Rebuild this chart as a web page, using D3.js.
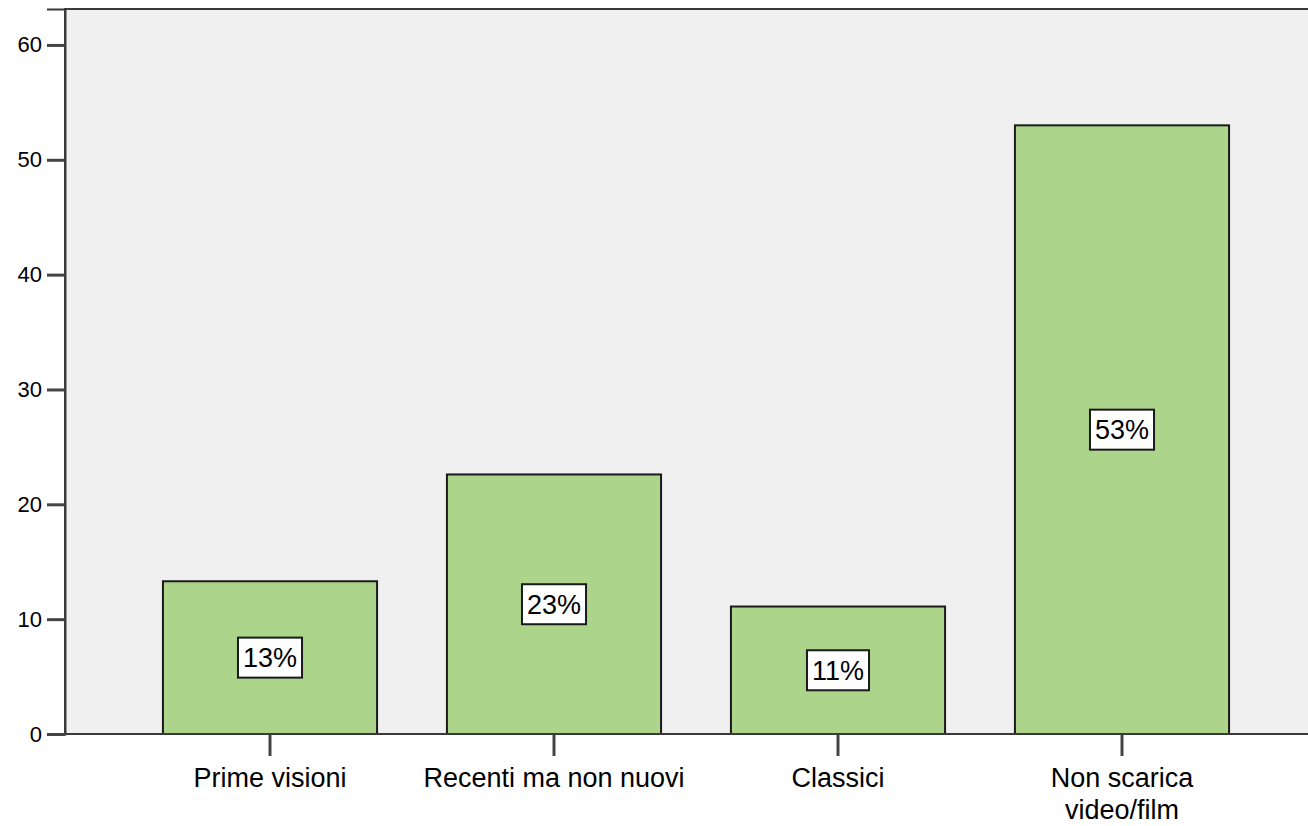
<!DOCTYPE html>
<html>
<head>
<meta charset="utf-8">
<script src="https://cdn.jsdelivr.net/npm/d3@7"></script>
<style>
  body { margin: 0; background: #fff; }
  text { font-family: "Liberation Sans", Arial, sans-serif; fill: #000; }
</style>
</head>
<body>
<div id="chart"></div>
<script>
// data
const categories = ["Prime visioni", "Recenti ma non nuovi", "Classici", "Non scarica video/film"];
const catLines = [["Prime visioni"], ["Recenti ma non nuovi"], ["Classici"], ["Non scarica", "video/film"]];
const values = [13.3, 22.6, 11.1, 53.0];
const pctLabels = ["13%", "23%", "11%", "53%"];
const yTicks = [0, 10, 20, 30, 40, 50, 60];

var W = 1308, H = 826;
var margin = { top: 9, right: 0, bottom: 92, left: 65 };

var svg = d3.select("#chart").append("svg")
    .attr("width", W)
    .attr("height", H);

var y = d3.scaleLinear()
    .domain([0, 63.13])
    .range([H - margin.bottom, margin.top]);

var x = d3.scaleBand()
    .domain(categories)
    .range([128, 1264])
    .paddingInner(0.246)
    .paddingOuter(0.123);

// plot background + frame
svg.append("rect")
    .attr("x", margin.left)
    .attr("y", margin.top)
    .attr("width", W - margin.left + 10)
    .attr("height", y(0) - margin.top)
    .attr("fill", "#f0f0f0")
    .attr("stroke", "#3a3a3a")
    .attr("stroke-width", 2);

// bars
svg.append("g")
    .selectAll("rect")
    .data(values)
    .enter()
    .append("rect")
    .attr("x", (d, i) => x(categories[i]))
    .attr("y", d => y(d))
    .attr("width", x.bandwidth())
    .attr("height", d => y(0) - y(d))
    .attr("fill", "#acd58b")
    .attr("stroke", "#1a1a1a")
    .attr("stroke-width", 2);

// y axis
var yAxis = svg.append("g")
    .attr("transform", "translate(" + margin.left + ",0)")
    .call(d3.axisLeft(y).tickValues(yTicks).tickSize(18).tickPadding(5).tickFormat(d3.format("d")));
yAxis.select(".domain").attr("stroke", "#3a3a3a").attr("stroke-width", 2);
yAxis.selectAll(".tick line").attr("stroke", "#444").attr("stroke-width", 3);
yAxis.selectAll(".tick text")
    .attr("font-size", 22)
    .attr("font-family", "Liberation Sans, Arial, sans-serif")
    .attr("fill", "#000");

// x axis
var xAxis = svg.append("g")
    .attr("transform", "translate(0," + y(0) + ")")
    .call(d3.axisBottom(x).tickSize(22).tickFormat(""));
xAxis.select(".domain").remove();
xAxis.selectAll(".tick line").attr("stroke", "#444").attr("stroke-width", 3);

svg.append("line")
    .attr("x1", margin.left).attr("x2", W)
    .attr("y1", y(0)).attr("y2", y(0))
    .attr("stroke", "#3a3a3a")
    .attr("stroke-width", 2);

// category labels
var catG = svg.append("g");
catLines.forEach(function(lines, i) {
    var t = catG.append("text")
        .attr("x", x(categories[i]) + x.bandwidth() / 2)
        .attr("y", y(0) + 53)
        .attr("text-anchor", "middle")
        .attr("font-size", 27);
    lines.forEach(function(l, j) {
        t.append("tspan")
            .attr("x", x(categories[i]) + x.bandwidth() / 2)
            .attr("dy", j === 0 ? 0 : 32)
            .text(l);
    });
});

// value labels in white boxes
var lab = svg.append("g").selectAll("g")
    .data(values)
    .enter()
    .append("g")
    .attr("transform", (d, i) => "translate(" + (x(categories[i]) + x.bandwidth() / 2) + "," + y(d / 2) + ")");

lab.each(function(d, i) {
    var g = d3.select(this);
    var r = g.append("rect");
    var t = g.append("text")
        .attr("text-anchor", "middle")
        .attr("dy", "0.36em")
        .attr("font-size", 27)
        .text(pctLabels[i]);
    var bb = t.node().getBBox();
    r.attr("x", bb.x - 5)
        .attr("y", -20)
        .attr("width", bb.width + 10)
        .attr("height", 40)
        .attr("fill", "#fff")
        .attr("stroke", "#1a1a1a")
        .attr("stroke-width", 2);
});
</script>
</body>
</html>
